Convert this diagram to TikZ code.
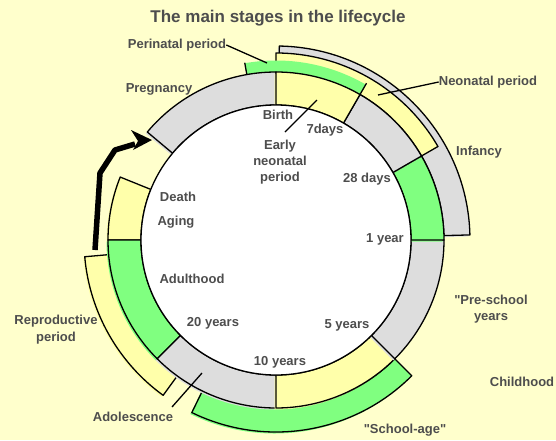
\documentclass[tikz,border=0pt]{standalone}
\usepackage{fontspec}
\setmainfont{Liberation Sans}[Ligatures=TeXOff]
\definecolor{bg}{HTML}{FFFFCC}
\definecolor{yel}{HTML}{FFFFAA}
\definecolor{grn}{HTML}{80FF80}
\definecolor{gry}{HTML}{DDDDDD}
\definecolor{txt}{HTML}{4D4D4D}
\newcommand\annsec[4]{(#1:#3pt) arc[start angle=#1,end angle=#2,radius=#3pt] -- (#2:#4pt) arc[start angle=#2,end angle=#1,radius=#4pt] -- cycle}
\newcommand\seg[5]{%
  \fill[#1,shift={(-1.5pt,-1.5pt)}]\annsec{#2}{#3}{#4}{#5};
  \filldraw[fill=#1,draw=black,outl]\annsec{#2}{#3}{#4}{#5};}
\begin{document}
\begin{tikzpicture}[x=1pt,y=1pt,
  outl/.style={line width=1.3pt,line join=round},
  lbl/.style={font=\fontsize{13}{16}\selectfont\bfseries,text=txt,align=center,inner sep=0pt},
  leader/.style={line width=1.3pt}]
\useasboundingbox (-276,-200) rectangle (280,240);
\fill[bg] (-276,-200) rectangle (280,240);

% outer bands
\seg{gry}{1.5}{89}{168}{194}
\seg{yel}{30}{90}{168}{187}
\fill[grn]\annsec{60}{100}{168}{179.5};
\draw[outl] (100:168pt) -- (100:180pt);
\seg{yel}{185}{234}{168}{192}
\seg{grn}{244}{315}{168}{192}

% ring segments
\seg{gry}{90}{140}{135}{168}
\seg{yel}{158}{180}{135}{168}
\seg{grn}{180}{225}{135}{168}
\seg{gry}{225}{270}{135}{168}
\seg{yel}{270}{315}{135}{168}
\seg{gry}{315}{360}{135}{168}
\seg{grn}{0}{30}{135}{168}
\seg{gry}{30}{60}{135}{168}
\seg{yel}{60}{90}{135}{168}
\draw[outl] (60:168pt) -- (60:181pt);
\filldraw[fill=white,draw=black,outl] (0,0) circle[radius=135pt];

% arrow (before pregnancy)
\coordinate (a0) at (-181,-10);
\coordinate (a1) at (-176,67);
\coordinate (a2) at (-161,90);
\coordinate (a3) at (-141,96);
\coordinate (tip) at (-124,100);
\coordinate (bup) at (-145,110);
\coordinate (bnotch) at (-138,99);
\coordinate (blo) at (-143,90);
\draw[line width=5.5pt,line join=round] (a0) -- (a1) -- (a2) -- (a3);
\fill (tip) -- (bup) -- (bnotch) -- (blo) -- cycle;

% labels
\node[lbl,font=\fontsize{17}{20}\selectfont\bfseries] (title) at (2,222) {The main stages in the lifecycle};
\node[lbl] (peri) at (-99,195) {Perinatal period};
\node[lbl] (preg) at (-117,151) {Pregnancy};
\node[lbl] (neo) at (212,158) {Neonatal period};
\node[lbl] (inf) at (203,88) {Infancy};
\node[lbl] (birth) at (2,125) {Birth};
\node[lbl] (early) at (4,78) {Early\\neonatal\\period};
\node[lbl] (d7) at (49,110) {7days};
\node[lbl] (d28) at (91,61) {28 days};
\node[lbl] (y1) at (109,1) {1 year};
\node[lbl] (y5) at (71,-85) {5 years};
\node[lbl] (y10) at (4,-122) {10 years};
\node[lbl] (y20) at (-63,-83) {20 years};
\node[lbl] (adult) at (-84,-39) {Adulthood};
\node[lbl] (aging) at (-100,18) {Aging};
\node[lbl] (death) at (-98,43) {Death};
\node[lbl,font=\fontsize{13}{17}\selectfont\bfseries] (repro) at (-220,-90) {Reproductive\\period};
\node[lbl] (adol) at (-143,-177) {Adolescence};
\node[lbl] (school) at (129,-190) {"School-age"};
\node[lbl] (presch) at (215,-69) {"Pre-school\\years};
\node[lbl] (child) at (246,-142) {Childhood};

% leader lines
\coordinate (periT) at (-9,177);
\coordinate (neoT) at (102,145);
\coordinate (earlyT) at (41,140);
\coordinate (earlyS) at (9,108);
\coordinate (adolT) at (-74,-133);
\coordinate (adolS) at (-104,-167);
\draw[leader] (peri.east) -- (periT);
\draw[leader] (neo.west) -- (neoT);
\draw[leader] (earlyS) -- (earlyT);
\draw[leader] (adolS) -- (adolT);
\end{tikzpicture}
\end{document}
